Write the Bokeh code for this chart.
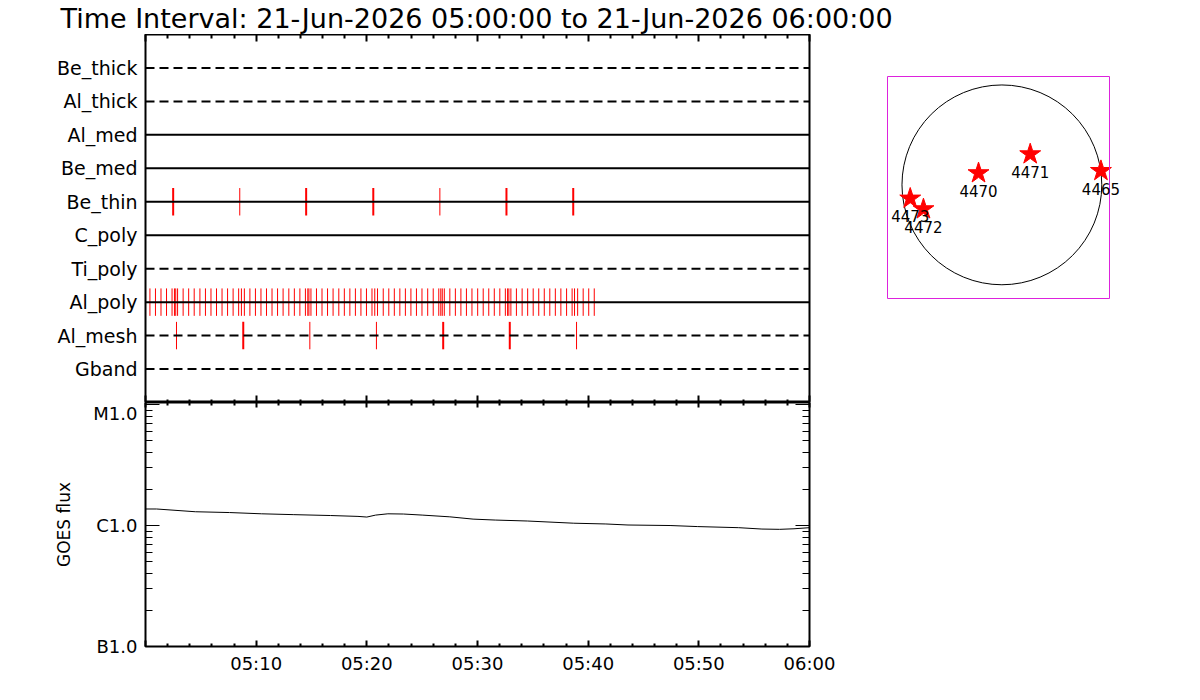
import math
from bokeh.plotting import figure
from bokeh.models import (FixedTicker, LinearAxis, LogAxis, ColumnDataSource,
                          LabelSet, Range1d, Span, BoxAnnotation)
from bokeh.layouts import column, row
from bokeh.embed import file_html
from bokeh.resources import INLINE
from bokeh.core.properties import value

FONT = "DejaVu Sans"

# ---------------- data ----------------
title_text = "Time Interval: 21-Jun-2026 05:00:00 to 21-Jun-2026 06:00:00"

# filter channels, bottom to top
filters = ["Gband", "Al_mesh", "Al_poly", "Ti_poly", "C_poly",
           "Be_thin", "Be_med", "Al_med", "Al_thick", "Be_thick"]
filter_in_program = [False, False, True, False, True,
                     True, True, True, False, False]

# exposure times, seconds after 05:00:00
be_thin_times = [150, 511, 871, 1235, 1596, 1957, 2319]
be_thin_kind = ["F", "P", "F", "F", "P", "F", "F"]

al_mesh_times = [168, 530, 891, 1252, 1614, 1975, 2337]
al_mesh_kind = ["P", "F", "P", "P", "F", "F", "P"]

al_poly_times = [24, 54, 84, 114, 144, 157, 164, 174, 204, 234, 264, 295, 325,
                 355, 385, 415, 445, 475, 505, 520, 536, 566, 596, 626, 656,
                 686, 716, 746, 777, 807, 837, 867, 880, 886, 897, 927, 957,
                 987, 1017, 1048, 1078, 1108, 1138, 1168, 1198, 1228, 1243,
                 1258, 1289, 1319, 1349, 1379, 1409, 1439, 1469, 1499, 1530,
                 1560, 1590, 1601, 1609, 1620, 1650, 1680, 1710, 1740, 1770,
                 1801, 1831, 1861, 1891, 1921, 1951, 1963, 1970, 1981, 2011,
                 2042, 2072, 2102, 2132, 2162, 2192, 2222, 2252, 2283, 2313,
                 2326, 2343, 2373, 2403, 2433]

# GOES flux (W/m^2), seconds after 05:00:00
goes_times = [0, 60, 270, 456, 630, 804, 1002, 1152, 1200, 1248, 1314, 1398,
              1500, 1650, 1776, 1896, 2070, 2322, 2496, 2616, 2844, 2994,
              3216, 3342, 3438, 3516, 3600]
goes_flux = [1.37e-6, 1.37e-6, 1.30e-6, 1.28e-6, 1.25e-6, 1.23e-6, 1.21e-6,
             1.19e-6, 1.175e-6, 1.22e-6, 1.25e-6, 1.245e-6, 1.22e-6, 1.18e-6,
             1.13e-6, 1.11e-6, 1.09e-6, 1.045e-6, 1.03e-6, 1.01e-6, 1.0e-6,
             0.98e-6, 0.96e-6, 0.935e-6, 0.93e-6, 0.94e-6, 0.96e-6]

time_tick_values = [0, 600, 1200, 1800, 2400, 3000, 3600]
time_tick_labels = ["", "05:10", "05:20", "05:30", "05:40", "05:50", "06:00"]

goes_tick_values = [1e-7, 1e-6, 1e-5]
goes_tick_labels = ["B1.0", "C1.0", "M1.0"]

# active regions on the disk (arcsec)
ar_names = ["4473", "4472", "4470", "4471", "4465"]
ar_x = [-867, -742, -221, 268, 937]
ar_y = [-129, -230, 111, 290, 132]
sun_radius = 945
fov_x = (-1082, 1018)
fov_y = (-1075, 1025)

# ---------------- layout constants (pixels) ----------------
LEFT = 145
TOP = 35
FRAME_W = 664
TOP_H = 368
GOES_H = 244
BOX_PX = 222
DISK_FRAME_LEFT = 830
DISK_W = 350
BOX_LEFT, BOX_TOP = 887, 77
PAGE_W = 1190

minor_time = [t for t in range(0, 3601, 120) if t % 600]
minor_log = [m * 10.0 ** e for e in (-7, -6) for m in range(2, 10)]


def blank_labels(ax, ticks):
    ax.major_label_overrides = {t: "" for t in ticks}
    ax.major_label_text_font_size = "1px"
    ax.major_label_standoff = 0


def time_axis(in_major, in_minor, labels=False):
    ax = LinearAxis(ticker=FixedTicker(ticks=time_tick_values, minor_ticks=minor_time),
                    major_tick_in=in_major, major_tick_out=0,
                    minor_tick_in=in_minor, minor_tick_out=0,
                    major_tick_line_width=2, minor_tick_line_width=2,
                    axis_line_color=None)
    if labels:
        ax.major_label_overrides = dict(zip(time_tick_values, time_tick_labels))
        ax.major_label_text_font = FONT
        ax.major_label_text_font_size = "18px"
        ax.major_label_text_color = "black"
        ax.major_label_standoff = 6
    else:
        blank_labels(ax, time_tick_values)
    return ax


def clean(p):
    p.grid.grid_line_color = None
    p.background_fill_color = "white"
    p.border_fill_color = "white"


# ---------------- title strip ----------------
head = figure(frame_width=FRAME_W, frame_height=1, min_border_left=LEFT,
              min_border_right=PAGE_W - LEFT - FRAME_W, min_border_top=0,
              min_border_bottom=0, x_axis_location=None, y_axis_location=None,
              output_backend="svg", toolbar_location=None)
clean(head)
head.outline_line_color = None
head.title.text = title_text
head.title.align = "left"
head.title.offset = 60 - LEFT
head.title.standoff = 0
head.title.text_font = FONT
head.title.text_font_size = "27px"
head.title.text_font_style = "normal"
head.title.text_color = "black"

# ---------------- top panel: exposures ----------------
top = figure(frame_width=FRAME_W, frame_height=TOP_H, min_border_left=LEFT,
             min_border_right=2, min_border_top=0, min_border_bottom=0,
             x_range=Range1d(0, 3600), y_range=Range1d(0, len(filters) + 1),
             x_axis_location=None, y_axis_location=None,
             output_backend="svg", toolbar_location=None)
clean(top)
top.outline_line_color = "black"
top.outline_line_width = 2
top.outline_line_alpha = 1.0

rows = list(range(1, len(filters) + 1))
left = LinearAxis(ticker=FixedTicker(ticks=rows, minor_ticks=[]),
                  major_label_overrides=dict(zip(rows, filters)),
                  major_tick_in=0, major_tick_out=0, minor_tick_in=0, minor_tick_out=0,
                  axis_line_color=None, major_label_standoff=8,
                  major_label_text_font=FONT, major_label_text_font_size="19px",
                  major_label_text_color="black")
top.add_layout(left, "left")
top.add_layout(time_axis(7, 4), "above")
top.add_layout(time_axis(7, 3), "below")

for r, active in zip(rows, filter_in_program):
    top.add_layout(Span(location=r, dimension="width", line_color="black",
                        line_width=2, line_dash="solid" if active else "9 5"))

row_of = {name: i + 1 for i, name in enumerate(filters)}
ev_x, ev_row, ev_w = [], [], []
for name, times, kinds in [("Be_thin", be_thin_times, be_thin_kind),
                           ("Al_mesh", al_mesh_times, al_mesh_kind),
                           ("Al_poly", al_poly_times, ["P"] * len(al_poly_times))]:
    for t, k in zip(times, kinds):
        ev_x.append(t)
        ev_row.append(row_of[name])
        ev_w.append(2 if k == "F" else 1)
half = 0.41
ev_src = ColumnDataSource(dict(x=ev_x, y0=[r - half for r in ev_row],
                               y1=[r + half for r in ev_row], w=ev_w))
top.segment(x0="x", x1="x", y0="y0", y1="y1", source=ev_src,
            line_color="#ff0000", line_width="w")

# ---------------- disk panel ----------------
scale = (fov_x[1] - fov_x[0]) / BOX_PX        # arcsec per pixel
x0 = fov_x[0] - (BOX_LEFT - DISK_FRAME_LEFT) * scale
y1 = fov_y[1] + (BOX_TOP - TOP) * scale
disk = figure(frame_width=DISK_W, frame_height=TOP_H,
              min_border_left=DISK_FRAME_LEFT - (LEFT + FRAME_W + 2),
              min_border_right=0, min_border_top=0, min_border_bottom=0,
              x_range=Range1d(x0, x0 + DISK_W * scale),
              y_range=Range1d(y1 - TOP_H * scale, y1),
              x_axis_location=None, y_axis_location=None,
              output_backend="svg", toolbar_location=None)
clean(disk)
disk.outline_line_color = None
for loc in ("above", "below"):
    dax = LinearAxis(major_tick_in=0, major_tick_out=0, minor_tick_in=0,
                     minor_tick_out=0, axis_line_color=None)
    dax.ticker = FixedTicker(ticks=[0], minor_ticks=[])
    blank_labels(dax, [0])
    disk.add_layout(dax, loc)
disk.add_layout(BoxAnnotation(left=fov_x[0], right=fov_x[1], bottom=fov_y[0],
                              top=fov_y[1], fill_alpha=0, fill_color=None,
                              line_color="#dd22dd", line_width=1, line_alpha=1))
disk.circle(x=[0], y=[0], radius=[sun_radius], fill_color=None,
            line_color="black", line_width=1)
ar_src = ColumnDataSource(dict(x=ar_x, y=ar_y, name=ar_names))
disk.scatter(x="x", y="y", source=ar_src, marker="star", size=22,
             fill_color="#ff0000", line_color="#ff0000")
disk.add_layout(LabelSet(x="x", y="y", text="name", source=ar_src,
                         text_align="center", text_baseline="top", y_offset=-12,
                         text_font=value(FONT), text_font_size=value("15px"),
                         text_color="black"))

# ---------------- GOES panel ----------------
goes = figure(frame_width=FRAME_W, frame_height=GOES_H, min_border_left=LEFT,
              min_border_right=35, min_border_top=0, min_border_bottom=38,
              x_range=Range1d(0, 3600), y_range=Range1d(1e-7, 1.04e-5),
              y_axis_type="log", x_axis_location=None, y_axis_location=None,
              output_backend="svg", toolbar_location=None)
clean(goes)
goes.outline_line_color = "black"
goes.outline_line_width = 2
goes.outline_line_alpha = 1.0

gl = LogAxis(ticker=FixedTicker(ticks=goes_tick_values, minor_ticks=minor_log),
             major_label_overrides=dict(zip(goes_tick_values, goes_tick_labels)),
             major_tick_in=14, major_tick_out=0, minor_tick_in=7, minor_tick_out=0,
             major_tick_line_width=1, minor_tick_line_width=1,
             axis_line_color=None, major_label_standoff=8,
             major_label_text_font=FONT, major_label_text_font_size="18px",
             major_label_text_color="black",
             axis_label="GOES flux", axis_label_standoff=16,
             axis_label_text_font=FONT, axis_label_text_font_size="17px",
             axis_label_text_font_style="normal", axis_label_text_color="black")
goes.add_layout(gl, "left")
gr = LogAxis(ticker=FixedTicker(ticks=goes_tick_values, minor_ticks=minor_log),
             major_tick_in=14, major_tick_out=0, minor_tick_in=7, minor_tick_out=0,
             major_tick_line_width=1, minor_tick_line_width=1,
             axis_line_color=None)
blank_labels(gr, goes_tick_values)
goes.add_layout(gr, "right")
goes.add_layout(time_axis(5, 3), "above")
goes.add_layout(time_axis(6, 3, labels=True), "below")

goes.line(x=goes_times, y=goes_flux, line_color="black", line_width=1)

layout = column(head, row(top, disk), goes)
open("out.html", "w").write(file_html(layout, INLINE))
